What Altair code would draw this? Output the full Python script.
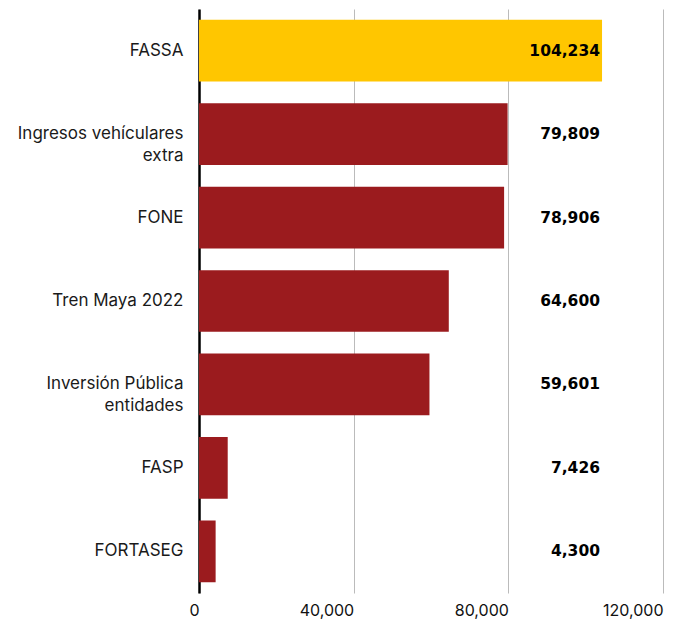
import altair as alt
import pandas as pd

categories = ["FASSA", "Ingresos vehículares\nextra", "FONE", "Tren Maya 2022",
              "Inversión Pública\nentidades", "FASP", "FORTASEG"]
values = [104234, 79809, 78906, 64600, 59601, 7426, 4300]
highlight = [True, False, False, False, False, False, False]
x_ticks = [0, 40000, 80000, 120000]
label_pos = 103700

df = pd.DataFrame({"cat": categories, "val": values, "hl": highlight})
df["label"] = df["val"].map(lambda v: f"{v:,}")

y_axis = alt.Axis(labelFont="Inter", labelFontSize=17, labelColor="#1a1a1a",
                  labelPadding=16, ticks=False, domainColor="#000000", domainWidth=2.5,
                  labelExpr="split(datum.label, '\\n')", labelLineHeight=22, grid=False)
x_axis = alt.Axis(values=x_ticks, format=",.0f", labelAlign="right", labelFontSize=16,
                  labelFont="Inter", labelColor="#111111", ticks=False,
                  domain=False, gridColor="#bbbbbb", gridWidth=1, labelPadding=9)
x_scale = alt.Scale(domain=[0, 120000], nice=False)
y_scale = alt.Scale(paddingInner=0.26, paddingOuter=0.13)

bars = alt.Chart(df).mark_bar().encode(
    x=alt.X("val:Q", title=None, scale=x_scale, axis=x_axis),
    y=alt.Y("cat:N", sort=categories, title=None, scale=y_scale, axis=y_axis),
    color=alt.Color("hl:N", scale=alt.Scale(domain=[True, False], range=["#FFC600", "#9B1B1E"]),
                    legend=None),
)

text = alt.Chart(df).mark_text(align="right", baseline="middle", font="DejaVu Sans",
                               fontWeight="bold", fontSize=15.5, color="#000000").encode(
    x=alt.X(datum=label_pos, title=None, scale=x_scale, axis=x_axis),
    y=alt.Y("cat:N", sort=categories, title=None, scale=y_scale, axis=y_axis),
    text="label:N",
)

chart = alt.layer(bars, text).properties(
    width=464, height=584,
    autosize=alt.AutoSizeParams(type="none"),
    padding={"left": 191, "top": 1, "right": 6, "bottom": 29},
).configure_view(stroke=None)

chart.save("out.html", embed_options={"renderer": "svg", "actions": False})
